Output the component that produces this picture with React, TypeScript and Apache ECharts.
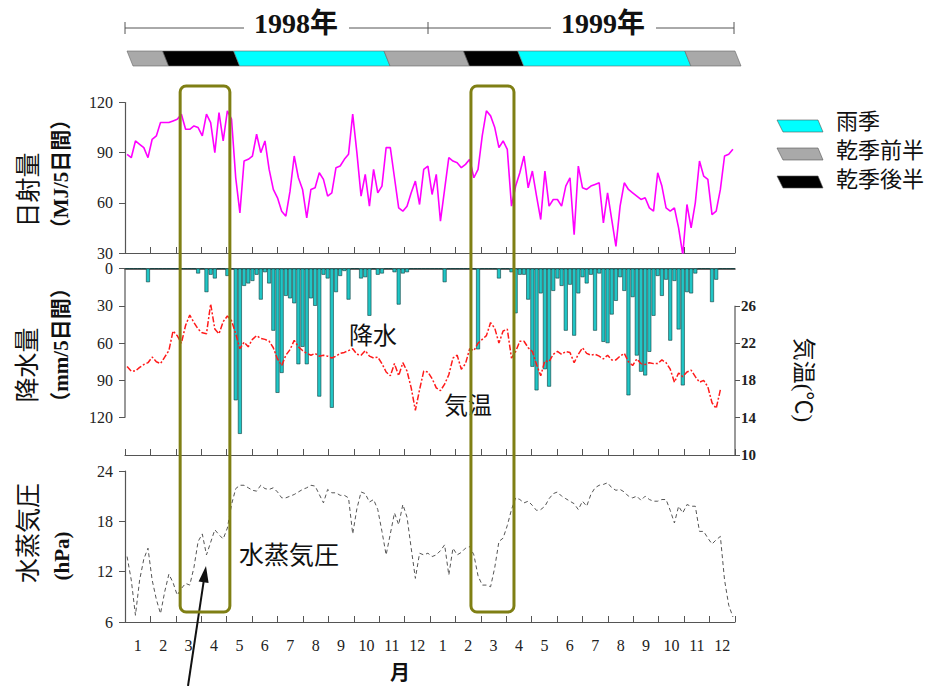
import React, { useEffect, useRef } from 'react';
import * as echarts from 'echarts';

// ---------- data (5-day periods, 73 per year) ----------
const monthLabels = ['1','2','3','4','5','6','7','8','9','10','11','12','1','2','3','4','5','6','7','8','9','10','11','12'];

const solar1998 = [89,87,97,95,93,87,98,100,108,108,108,109,110,113,104,104,106,105,100,113,108,90,114,97,115,110,75,54,85,86,88,101,90,97,80,68,63,55,52,67,88,75,68,51,68,69,78,74,64,66,81,82,86,89,113,90,64,77,58,80,66,70,93,93,75,57,55,58,66,73,59,80,82];
const solar1999 = [65,77,49,68,87,85,84,81,83,86,75,80,100,115,112,105,93,97,92,58,70,78,88,69,79,64,50,79,58,62,62,58,70,75,41,82,69,68,70,71,72,48,66,50,34,58,72,68,66,64,62,63,57,55,78,70,57,55,57,45,29,59,45,60,85,76,74,53,55,68,88,89,92];

const rain1998 = [0,0,0,0,0,11,0,0,0,0, 0,0,0,0,0,0,0,4,0,19, 5,8,0,0,6,0,106,133,14,12, 10,5,25,3,12,50,100,84,22,24, 28,77,63,77,24,30,103,5,8,112, 19,6,2,25,0,0,8,7,38,0, 5,4,0,0,3,29,4,3,0,0, 0,0,0];
const rain1999 = [0,0,0,11,0,0,0,0,0,0, 0,65,0,0,0,0,8,0,0,3, 36,5,5,25,79,98,20,81,95,18, 8,14,50,13,54,20,7,12,5,50, 4,59,60,37,26,7,18,102,23,70, 83,86,67,38,6,22,9,58,10,49, 94,19,20,4,0,0,0,27,9,0, 0,0,0];

const temp1998 = [19.5,19.0,19.0,19.4,19.7,19.9,20.5,20.0,19.8,20.5, 21.2,23.3,22.8,22.0,23.9,25.0,24.2,23.5,23.1,23.0, 26.2,23.5,23.0,24.3,24.9,24.4,23.0,21.4,22.1,21.6, 22.4,22.8,22.5,22.4,22.2,21.5,20.3,19.6,20.7,21.3, 22.3,21.6,21.2,20.9,20.7,20.9,20.6,20.7,20.6,20.4, 20.6,20.9,21.0,21.2,21.4,20.8,20.7,21.2,20.6,20.4, 20.5,19.8,18.9,18.5,19.8,18.5,19.9,19.0,17.2,14.8, 17.0,19.0,18.9];
const temp1999 = [18.2,17.2,16.9,17.6,18.6,20.4,20.7,19.2,19.8,21.4,21.2,22.0, 22.4,22.8,24.2,23.6,22.0,23.3,23.5,20.4,21.1,22.2, 22.2,21.5,21.1,19.7,18.5,20.1,20.0,20.8,21.1,20.8, 21.1,21.0,19.9,20.8,21.5,20.9,20.7,20.8,20.6,20.3, 20.7,20.2,20.2,20.6,20.9,20.0,19.6,20.3,19.8,19.7, 19.9,19.8,19.8,20.2,19.9,19.2,17.8,18.8,18.4,18.9, 19.1,18.4,17.8,18.0,17.3,15.6,15.0,17.0, null,null,null];

const vapor1998 = [13.8,11.0,6.8,11.0,13.5,14.8,11.0,8.7,7.0,9.6, 11.7,10.7,9.2,10.0,10.6,10.4,12.5,15.6,16.5,14.0, 15.5,17.0,16.4,15.9,17.2,20.0,21.9,22.3,22.3,22.0, 21.7,21.6,22.3,21.9,21.8,22.0,21.5,20.8,20.8,21.0, 21.2,21.5,21.8,22.0,22.3,22.2,21.2,20.2,21.8,21.4, 21.4,21.1,21.1,20.8,16.5,19.5,21.5,21.3,20.3,20.6, 19.4,16.8,14.0,16.5,19.0,17.6,20.0,18.5,14.8,11.2, 14.2,14.0,14.2];
const vapor1999 = [13.8,14.0,14.5,15.2,11.6,14.8,14.0,14.3,14.8,15.0,14.0,11.5, 10.4,10.4,10.2,12.5,15.6,16.0,17.5,19.4,20.8,20.6, 20.2,20.4,19.9,19.3,19.4,19.8,20.7,21.3,21.5,21.0, 20.7,20.4,20.1,19.4,20.4,19.8,21.2,22.0,22.3,22.4, 22.6,22.0,21.7,21.8,21.5,21.0,20.8,21.0,20.5,21.0, 20.6,20.4,20.4,20.6,20.6,19.3,17.8,19.8,19.0,20.0, 19.8,19.8,16.8,16.8,16.0,15.3,15.8,16.2,11.0,8.0, 6.6];

// season band: boundaries in 5-day periods and kinds
const seasonBounds = [0, 9, 26, 62, 81, 94, 134, 146];
const seasonKinds = ['乾季前半', '乾季後半', '雨季', '乾季前半', '乾季後半', '雨季', '乾季前半'];
const legendKinds = ['雨季', '乾季前半', '乾季後半'];
const seasonColors: Record<string, string> = { '雨季': '#00ffff', '乾季前半': '#a9a9a9', '乾季後半': '#000000' };

// highlighted windows (in periods)
const boxRanges = [[13.2, 25.1], [82.8, 93.1]];

const solar = [...solar1998, ...solar1999];
const rain = [...rain1998, ...rain1999];
const temp = [...temp1998, ...temp1999];
const vapor = [...vapor1998, ...vapor1999];
const periodNames = solar.map((_, i) => String(i + 1));

// ---------- layout ----------
const GRID_LEFT = 125;
const GRID_W = 610;
const N = periodNames.length;
const axisColor = '#555';
const serif = "'Liberation Serif', 'DejaVu Serif', serif";
const cjk = "'Noto Sans CJK JP', sans-serif";
const mixed = "'Liberation Serif', 'Noto Sans CJK JP', serif";

function monthAxis(gridIndex: number, showLabel: boolean) {
  return {
    type: 'category', gridIndex, data: monthLabels, boundaryGap: true, position: 'bottom',
    axisLine: { show: true, onZero: false, lineStyle: { color: axisColor, width: 1.2 } },
    axisTick: { show: true, inside: true, length: 6, lineStyle: { color: axisColor } },
    axisLabel: { show: showLabel, interval: 0, fontFamily: serif, fontSize: 16, color: '#222', margin: 15 },
    splitLine: { show: false },
  };
}
function dataAxis(gridIndex: number, extra: any = {}) {
  return {
    type: 'category', gridIndex, data: periodNames, boundaryGap: true, show: false,
    axisLine: { onZero: false }, ...extra,
  };
}

function buildOption(): any {
  const yLabel = { fontFamily: serif, fontSize: 16, color: '#222', margin: 12 };
  return {
    animation: false,
    grid: [
      { left: GRID_LEFT, width: GRID_W, top: 102.5, height: 150.5 },
      { left: GRID_LEFT, width: GRID_W, top: 268.5, height: 186.5 },
      { left: GRID_LEFT, width: GRID_W, top: 471, height: 151 },
    ],
    xAxis: [
      dataAxis(0),
      monthAxis(0, false),
      dataAxis(1, {
        show: true, position: 'top',
        axisLine: { show: true, onZero: false, lineStyle: { color: '#333', width: 1.5 } },
        axisTick: { show: false }, axisLabel: { show: false },
      }),
      monthAxis(1, false),
      dataAxis(2),
      monthAxis(2, true),
    ],
    yAxis: [
      {
        type: 'value', gridIndex: 0, min: 30, max: 120, interval: 30,
        axisLine: { show: true, lineStyle: { color: axisColor, width: 1.2 } },
        axisTick: { show: true, length: 6, lineStyle: { color: axisColor } },
        axisLabel: yLabel, splitLine: { show: false },
      },
      {
        type: 'value', gridIndex: 1, inverse: true, min: 0, max: 150, interval: 30,
        axisLine: { show: false },
        axisTick: { show: true, length: 6, lineStyle: { color: axisColor }, customValues: [0, 30, 60, 90, 120] },
        axisLabel: { ...yLabel, customValues: [0, 30, 60, 90, 120], formatter: (v: number) => (v > 120 ? '' : String(v)) },
        splitLine: { show: false },
      },
      {
        type: 'value', gridIndex: 1, position: 'right', min: 10, max: 30, interval: 4,
        axisLine: { show: false },
        axisTick: { show: true, length: 5, lineStyle: { color: axisColor }, customValues: [10, 14, 18, 22, 26] },
        axisLabel: { fontFamily: serif, fontSize: 15, fontWeight: 'bold', color: '#222', margin: 6, customValues: [10, 14, 18, 22, 26], formatter: (v: number) => (v > 26 ? '' : String(v)) },
        splitLine: { show: false },
      },
      {
        type: 'value', gridIndex: 2, min: 6, max: 24, interval: 6,
        axisLine: { show: true, lineStyle: { color: axisColor, width: 1.2 } },
        axisTick: { show: true, length: 6, lineStyle: { color: axisColor } },
        axisLabel: yLabel, splitLine: { show: false },
      },
    ],
    series: [
      {
        name: '日射量', type: 'line', xAxisIndex: 0, yAxisIndex: 0, data: solar, symbol: 'none',
        lineStyle: { color: '#ff00ff', width: 1.6 },
      },
      {
        name: '降水', type: 'bar', xAxisIndex: 2, yAxisIndex: 1, data: rain, barCategoryGap: '6%',
        itemStyle: { color: '#20c6c6', borderColor: '#0b3c3c', borderWidth: 0.6 },
      },
      {
        name: '気温', type: 'line', xAxisIndex: 2, yAxisIndex: 2, data: temp, symbol: 'none', connectNulls: false,
        lineStyle: { color: '#ff1a1a', width: 1.5, type: [6, 2, 2, 2] }, z: 5,
      },
      {
        name: '水蒸気圧', type: 'line', xAxisIndex: 4, yAxisIndex: 3, data: vapor, symbol: 'none',
        lineStyle: { color: '#555', width: 1, type: [4, 3] },
      },
    ],
  };
}

function buildGraphics(chart: any): any[] {
  const px = (p: number) => GRID_LEFT + (p * GRID_W) / N;
  const yPix = (axis: number, v: number, fallback: number) => {
    const r = chart.convertToPixel({ yAxisIndex: axis }, v);
    return typeof r === 'number' && isFinite(r) ? r : fallback;
  };
  const els: any[] = [];
  const text = (t: string, x: number, y: number, size: number, opts: any = {}) => {
    els.push({
      type: 'text', x, y, rotation: opts.rotation || 0, z: 50,
      style: {
        text: t, fontSize: size, fontFamily: opts.family || cjk, fontWeight: opts.weight || 'normal',
        lineHeight: size, fill: opts.fill || '#111', align: opts.align || 'center', verticalAlign: 'middle',
        textAlign: opts.align || 'center', textVerticalAlign: 'middle',
      },
    });
  };
  const line = (x1: number, y1: number, x2: number, y2: number, stroke = axisColor, w = 1.2) => {
    els.push({ type: 'line', z: 50, shape: { x1, y1, x2, y2 }, style: { stroke, lineWidth: w } });
  };

  // partial axis lines of the middle panel
  line(GRID_LEFT, yPix(1, 0, 268.5), GRID_LEFT, yPix(1, 120, 417.7));
  line(GRID_LEFT + GRID_W, yPix(2, 26, 306.1), GRID_LEFT + GRID_W, yPix(2, 10, 455));

  // highlighted windows
  boxRanges.forEach(([a, b]) => {
    els.push({
      type: 'rect', z: 60,
      shape: { x: px(a), y: 86, width: px(b) - px(a), height: 526, r: 6 },
      style: { fill: 'rgba(0,0,0,0)', stroke: '#7f7f14', lineWidth: 3 },
    });
  });

  // season band
  const bandTop = 51, bandBot = 66, slant = 6;
  seasonKinds.forEach((k, i) => {
    const x0 = i === 0 ? px(seasonBounds[i]) + 2 : px(seasonBounds[i]);
    const x1 = px(seasonBounds[i + 1]);
    els.push({
      type: 'polygon', z: 40,
      shape: { points: [[x0, bandTop], [x1, bandTop], [x1 + slant, bandBot], [x0 + slant, bandBot]] },
      style: { fill: seasonColors[k], stroke: '#666', lineWidth: 0.6 },
    });
  });

  // year header
  const hy = 28;
  line(125, hy, 244, hy, '#555', 1);
  line(349, hy, 551, hy, '#555', 1);
  line(656, hy, 734, hy, '#555', 1);
  [125, 428, 734].forEach((x) => line(x, hy - 6, x, hy + 6, '#555', 1));
  text('1998年', 296, 23, 28, { family: mixed, weight: 'bold' });
  text('1999年', 603, 23, 28, { family: mixed, weight: 'bold' });

  // legend
  const legY = [120, 148, 176];
  const legTextY = [119, 148, 177];
  legendKinds.forEach((k, i) => {
    const y0 = legY[i], y1 = legY[i] + 12;
    els.push({
      type: 'polygon', z: 40,
      shape: { points: [[777, y0], [818, y0], [823, y1], [783, y1]] },
      style: { fill: seasonColors[k], stroke: '#555', lineWidth: 0.6 },
    });
    text(k, 836, legTextY[i], 22, { align: 'left' });
  });

  // axis titles
  const up = Math.PI / 2;
  text('日射量', 26, 190, 25, { rotation: up });
  text('（MJ/5日間）', 61, 174, 21, { rotation: up, family: mixed, weight: 'bold' });
  text('降水量', 25, 365, 25, { rotation: up });
  text('（mm/5日間）', 61, 345, 21, { rotation: up, family: mixed, weight: 'bold' });
  text('水蒸気圧', 26, 533, 25, { rotation: up });
  text('(hPa)', 62, 556, 21, { rotation: up, family: mixed, weight: 'bold' });
  text('気温(℃)', 803, 380, 23, { rotation: -up, family: mixed });

  // in-plot labels
  text('降水', 373, 333, 24);
  text('気温', 468, 403, 24);
  text('水蒸気圧', 289, 553, 25);
  text('月', 400, 671, 20, { weight: 'bold' });

  // arrow
  line(188, 686, 203.6, 581.8, '#111', 2);
  els.push({
    type: 'polygon', z: 60,
    shape: { points: [[206, 566], [208.6, 583], [198.6, 581.5]] },
    style: { fill: '#111' },
  });
  return els;
}

export default function App() {
  const ref = useRef<HTMLDivElement>(null);
  useEffect(() => {
    const el = ref.current;
    if (!el) return;
    const chart = echarts.init(el, undefined, { renderer: 'svg' });
    chart.setOption(buildOption());
    chart.setOption({ graphic: { elements: buildGraphics(chart) } });
    return () => chart.dispose();
  }, []);
  return (
    <div
      ref={ref}
      style={{ position: 'fixed', left: 0, top: 0, width: 951, height: 686, background: '#fff' }}
    />
  );
}
